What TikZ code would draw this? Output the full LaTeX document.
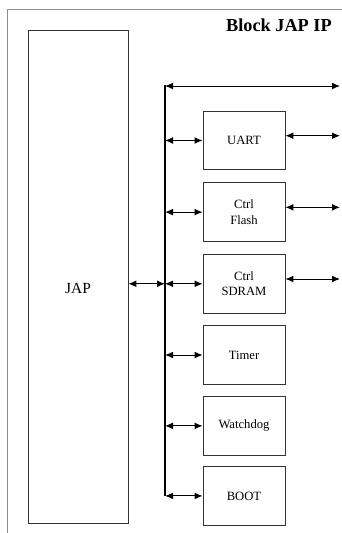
\documentclass[tikz,border=0pt]{standalone}
\usepackage{fontspec}
\setmainfont{Liberation Serif}
\usetikzlibrary{arrows.meta, positioning}

\begin{document}
\begin{tikzpicture}[
    block/.style={draw=black!80, line width=0.6pt, minimum width=2.05cm,
                  minimum height=1.47cm, align=center, font=\fontsize{9}{11}\selectfont},
    cpu/.style={draw=black!80, line width=0.6pt, minimum width=2.5cm,
                minimum height=12.325cm},
    bus/.style={line width=1.6pt},
    fl/.style={{Latex[length=2mm,width=1.7mm]}-{Latex[length=2mm,width=1.7mm]}, line width=0.7pt},
    frame/.style={draw=black!45, line width=0.6pt}
]
    \useasboundingbox (0,0) rectangle (8.55,-13.325);
    \draw[frame] (0.175,-13.325) -- (0.175,-0.225) -- (8.55,-0.225);
    \node[font=\bfseries\fontsize{13}{15}\selectfont, anchor=east, inner sep=0pt] (title) at (8.3,-0.64) {Block JAP IP};

    \node[cpu] (jap) at (1.95,-6.9125) {};
    \node[font=\fontsize{11}{13}\selectfont] (japlbl) at ([yshift=-0.3cm]jap.center) {JAP};

    \node[block] (uart) at (6.1,-3.5125) {UART};
    \node[block, below=0.3cm of uart] (flash) {Ctrl\\Flash};
    \node[block, below=0.3cm of flash] (sdram) {Ctrl\\SDRAM};
    \node[block, below=0.29cm of sdram] (timer) {Timer};
    \node[block, below=0.28cm of timer] (wdog) {Watchdog};
    \node[block, below=0.26cm of wdog] (boot) {BOOT};

    \coordinate (bustop) at (4.125,-2.125);
    \coordinate (busend) at (bustop |- boot.west);
    \coordinate (topend) at (8.5,-2.15);
    \draw[bus] (bustop) -- (busend);

    \draw[fl] (bustop |- topend) -- (topend);
    \draw[fl] (jap.east |- sdram.west) -- (bustop |- sdram.west);
    \foreach \b in {uart, flash, sdram, timer, wdog, boot}
        \draw[fl] (bustop |- \b.west) -- (\b.west);
    \foreach \b in {uart, flash, sdram} {
        \coordinate (\b out) at ([yshift=0.12cm]\b.east -| topend);
        \draw[fl] ([yshift=0.12cm]\b.east) -- (\b out);
    }
\end{tikzpicture}
\end{document}
